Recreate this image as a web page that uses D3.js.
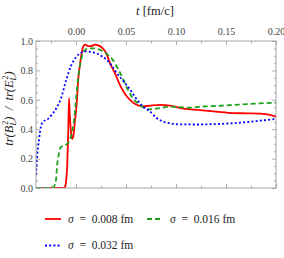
<!DOCTYPE html>
<html>
<head>
<meta charset="utf-8">
<script src="https://cdnjs.cloudflare.com/ajax/libs/d3/7.8.5/d3.min.js"></script>
<style>
  body { margin: 0; background: #fff; }
  svg { font-family: "Liberation Serif", "DejaVu Serif", serif; }
</style>
</head>
<body>
<script>
// values: t [fm/c] and tr(B^2)/tr(E^2)
const t008 = [-0.040, -0.013, -0.011, -0.010, -0.0088, -0.0078, -0.0070, -0.0062, -0.0050, -0.0037, -0.0025, -0.0010, 0.001, 0.002, 0.004, 0.006, 0.008, 0.0095, 0.012, 0.015, 0.019, 0.022, 0.026, 0.030, 0.034, 0.039, 0.044, 0.049, 0.054, 0.060, 0.067, 0.074, 0.084, 0.094, 0.107, 0.124, 0.140, 0.157, 0.172, 0.184, 0.194, 0.200];
const v008 = [0, 0, 0.008, 0.04, 0.15, 0.37, 0.61, 0.50, 0.38, 0.335, 0.36, 0.46, 0.60, 0.72, 0.84, 0.93, 0.97, 0.975, 0.965, 0.965, 0.975, 0.97, 0.955, 0.92, 0.85, 0.78, 0.70, 0.64, 0.60, 0.568, 0.555, 0.56, 0.565, 0.56, 0.54, 0.53, 0.52, 0.51, 0.508, 0.506, 0.497, 0.485];

const t016 = [-0.040, -0.024, -0.022, -0.020, -0.019, -0.017, -0.015, -0.012, -0.009, -0.006, -0.004, -0.002, 0.000, 0.002, 0.005, 0.008, 0.012, 0.018, 0.022, 0.027, 0.032, 0.037, 0.042, 0.046, 0.051, 0.057, 0.064, 0.072, 0.080, 0.094, 0.114, 0.124, 0.140, 0.157, 0.175, 0.184, 0.200];
const v016 = [0, 0, 0.01, 0.055, 0.145, 0.236, 0.28, 0.285, 0.30, 0.33, 0.38, 0.46, 0.60, 0.74, 0.87, 0.93, 0.95, 0.95, 0.945, 0.93, 0.905, 0.87, 0.81, 0.757, 0.68, 0.61, 0.565, 0.535, 0.54, 0.553, 0.546, 0.553, 0.558, 0.565, 0.572, 0.576, 0.58];

const t032 = [-0.040, -0.039, -0.037, -0.035, -0.033, -0.028, -0.024, -0.019, -0.015, -0.010, -0.005, 0.000, 0.005, 0.010, 0.015, 0.021, 0.026, 0.031, 0.036, 0.041, 0.047, 0.054, 0.060, 0.067, 0.074, 0.080, 0.086, 0.094, 0.104, 0.120, 0.140, 0.160, 0.180, 0.200];
const v032 = [0.09, 0.20, 0.33, 0.42, 0.45, 0.47, 0.50, 0.55, 0.61, 0.73, 0.83, 0.89, 0.92, 0.93, 0.925, 0.915, 0.895, 0.87, 0.83, 0.78, 0.73, 0.67, 0.61, 0.555, 0.52, 0.48, 0.455, 0.44, 0.433, 0.432, 0.435, 0.442, 0.455, 0.47];

const xTickLabels = [0.00, 0.05, 0.10, 0.15, 0.20];
const xMinorTicks = [-0.025, 0.025, 0.075, 0.125, 0.175];
const yTickLabels = [0.0, 0.2, 0.4, 0.6, 0.8, 1.0];
const yMinorTicks = [0.05, 0.1, 0.15, 0.25, 0.3, 0.35, 0.45, 0.5, 0.55, 0.65, 0.7, 0.75, 0.85, 0.9, 0.95];

const seriesNames = ["\u03c3 = 0.008 fm", "\u03c3 = 0.016 fm", "\u03c3 = 0.032 fm"];

const W = 284, H = 258;
const pLeft = 36, pRight = 276, pTop = 41, pBottom = 188;

const svg = d3.select("body").append("svg")
    .attr("width", W)
    .attr("height", H);

const x = d3.scaleLinear().domain([-0.04, 0.20]).range([pLeft, pRight]);
const y = d3.scaleLinear().domain([0, 1]).range([pBottom, pTop]);

const frameColor = "#9a9a9a";

// ticks (inward, Mathematica style)
function tickAxis(axis, tr) {
  const g = svg.append("g").attr("transform", tr).call(axis);
  g.select(".domain").remove();
  g.selectAll(".tick line").attr("stroke", frameColor).attr("stroke-width", 0.8);
  g.selectAll(".tick text").attr("fill", "#444").style("font-size", "10px")
      .style("font-family", "'Liberation Serif', serif");
  return g;
}

tickAxis(d3.axisBottom(x).tickValues(xTickLabels).tickSize(-4).tickFormat(""), `translate(0,${pBottom})`);
tickAxis(d3.axisBottom(x).tickValues(xMinorTicks).tickSize(-2.5).tickFormat(""), `translate(0,${pBottom})`);
tickAxis(d3.axisTop(x).tickValues(xTickLabels).tickSize(-4).tickPadding(6).tickFormat(d3.format(".2f")), `translate(0,${pTop})`);
tickAxis(d3.axisTop(x).tickValues(xMinorTicks).tickSize(-2.5).tickFormat(""), `translate(0,${pTop})`);

tickAxis(d3.axisLeft(y).tickValues(yTickLabels).tickSize(-4).tickPadding(3).tickFormat(d3.format(".1f")), `translate(${pLeft},0)`);
tickAxis(d3.axisLeft(y).tickValues(yMinorTicks).tickSize(-2).tickFormat(""), `translate(${pLeft},0)`);
tickAxis(d3.axisRight(y).tickValues(yTickLabels).tickSize(-4).tickFormat(""), `translate(${pRight},0)`);
tickAxis(d3.axisRight(y).tickValues(yMinorTicks).tickSize(-2).tickFormat(""), `translate(${pRight},0)`);

// clip the curves to the frame
svg.append("clipPath").attr("id", "plotclip")
  .append("rect")
    .attr("x", pLeft).attr("y", pTop - 2)
    .attr("width", pRight - pLeft).attr("height", pBottom - pTop + 2);

const line = d3.line()
    .x(d => x(d[0]))
    .y(d => y(d[1]))
    .curve(d3.curveMonotoneX);

const series = [
  {t: t008, v: v008, color: "#ff0000", dash: null},
  {t: t016, v: v016, color: "#1fa01f", dash: "5,3"},
  {t: t032, v: v032, color: "#0000ff", dash: "2,2.2"}
];

const plot = svg.append("g").attr("clip-path", "url(#plotclip)");

series.forEach(s => {
  const pts = s.t.map((t, i) => [t, s.v[i]]);
  plot.append("path")
      .datum(pts)
      .attr("fill", "none")
      .attr("stroke", s.color)
      .attr("stroke-width", 1.8)
      .attr("stroke-dasharray", s.dash)
      .attr("d", line);
});

// frame
svg.append("rect")
    .attr("x", pLeft).attr("y", pTop)
    .attr("width", pRight - pLeft).attr("height", pBottom - pTop)
    .attr("fill", "none")
    .attr("stroke", frameColor)
    .attr("stroke-width", 0.9);

// axis titles
const title = svg.append("text")
    .attr("x", 155).attr("y", 15)
    .attr("text-anchor", "middle")
    .style("font-size", "12.5px")
    .attr("fill", "#222");
title.append("tspan").style("font-style", "italic").text("t");
title.append("tspan").text(" [fm/c]");

const ylab = svg.append("text")
    .attr("transform", `translate(13,${(pTop + pBottom) / 2 - 6}) rotate(-90)`)
    .attr("text-anchor", "middle")
    .style("font-size", "12.5px")
    .style("font-style", "italic")
    .attr("fill", "#222");
ylab.append("tspan").text("tr(B");
ylab.append("tspan").attr("dy", 3).style("font-size", "8px").text("L");
ylab.append("tspan").attr("dy", -8).attr("dx", -3.5).style("font-size", "8px").style("font-style", "normal").text("2");
ylab.append("tspan").attr("dy", 5).text(")\u2002/\u2002tr(E");
ylab.append("tspan").attr("dy", 3).style("font-size", "8px").text("L");
ylab.append("tspan").attr("dy", -8).attr("dx", -3.5).style("font-size", "8px").style("font-style", "normal").text("2");
ylab.append("tspan").attr("dy", 5).text(")");

// legend
const legendPos = [[45, 219], [147, 219], [45, 245.5]];
series.forEach((s, i) => {
  const [lx, ly] = legendPos[i];
  svg.append("line")
      .attr("x1", lx).attr("x2", lx + 16)
      .attr("y1", ly).attr("y2", ly)
      .attr("stroke", s.color)
      .attr("stroke-width", 1.8)
      .attr("stroke-dasharray", s.dash);
  const txt = svg.append("text")
      .attr("x", lx + 23).attr("y", ly + 3.5)
      .style("font-size", "11.5px")
      .attr("fill", "#222");
  const parts = seriesNames[i].split(" = ");
  txt.append("tspan").style("font-style", "italic").text(parts[0]);
  txt.append("tspan").text("\u2002=\u2002" + parts[1]);
});
</script>
</body>
</html>
